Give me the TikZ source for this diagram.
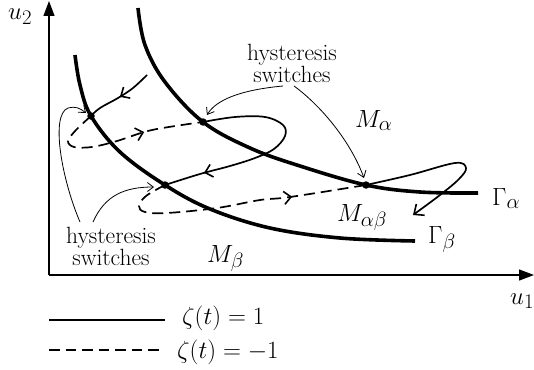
\documentclass[tikz,border=0pt]{standalone}
\usetikzlibrary{arrows.meta,decorations.markings}
\begin{document}
\begin{tikzpicture}[x=1pt,y=-1pt,
  axis/.style={line width=1.2pt,-{Triangle[length=15pt,width=11pt]}},
  manifold/.style={line width=3.6pt},
  traj/.style={line width=1.7pt},
  trajdash/.style={line width=1.7pt,dash pattern=on 11pt off 6pt},
  thin/.style={line width=0.8pt,-{Straight Barb[length=6pt,width=9pt]}},
  midarrow/.style={postaction={decorate},decoration={markings,mark=at position #1 with {\arrow{Straight Barb[length=7pt,width=13pt,line width=1.6pt]}}}},
  mathlbl/.style={inner sep=0pt,font=\fontsize{27.5}{32}\selectfont},
  txtlbl/.style={inner sep=0pt,align=center,font=\fontsize{23.5}{20}\selectfont},
  dot/.style={circle,fill,inner sep=0pt,minimum size=7.5pt}]
\useasboundingbox (0,0) rectangle (534,369);
% axes
\coordinate (O) at (49,275);
\coordinate (Ytop) at (49,1);
\coordinate (Xend) at (534,275);
\draw[axis] (O) -- (Ytop);
\draw[axis] (O) -- (Xend);
\node[mathlbl,anchor=base west] (u2) at (8,20) {$u_2$};
\node[mathlbl,anchor=base west] (u1) at (510,304) {$u_1$};
% manifolds
\draw[manifold] plot[smooth,tension=0.6] coordinates {(138,8) (145,45) (165,82) (203,122) (250,148) (300,166) (366,185) (420,192) (478,193)};
\draw[manifold] plot[smooth,tension=0.6] coordinates {(75,55) (80,85) (91,116) (120,152) (165,185) (210,209) (270,228) (340,238) (415,241)};
\node[mathlbl,anchor=base west] (Ga) at (492,205) {$\Gamma_\alpha$};
\node[mathlbl,anchor=base west] (Gb) at (428,243) {$\Gamma_\beta$};
% switch points
\node[dot] (A) at (91,116) {};
\node[dot] (B) at (203,122) {};
\node[dot] (C) at (165,185) {};
\node[dot] (D) at (366,185) {};
% trajectory
\draw[traj,midarrow=0.5] plot[smooth,tension=0.6] coordinates {(147,75) (133,88) (118,98) (100,108) (91,116)};
\draw[trajdash,midarrow=0.66] plot[smooth,tension=0.55] coordinates {(91,116) (76,130) (68,141) (74,147) (92,147) (117,141) (152,130) (203,122)};
\draw[traj,midarrow=0.82] plot[smooth,tension=0.6] coordinates {(203,122) (235,117) (265,117) (283,125) (285,136) (274,149) (255,158) (230,166) (200,174) (165,185)};
\draw[trajdash,midarrow=0.72] plot[smooth,tension=0.6] coordinates {(165,185) (146,196) (139,206) (145,212) (167,213) (217,208) (260,200) (290,197) (366,185)};
\draw[traj,-{Straight Barb[length=8pt,width=14pt,line width=1.6pt]}] plot[smooth,tension=0.6] coordinates {(366,185) (410,175) (455,163) (466,168) (459,179) (440,195) (413,215)};
% region labels
\node[mathlbl,anchor=base west] (Ma) at (355,127) {$M_\alpha$};
\node[mathlbl,anchor=base west] (Mab) at (337,221) {$M_{\alpha\beta}$};
\node[mathlbl,anchor=base west] (Mb) at (207,262) {$M_\beta$};
% hysteresis labels
\node[txtlbl] (H1) at (292,63) {hysteresis\\switches};
\node[txtlbl] (H2) at (111,246) {hysteresis\\switches};
\coordinate (h1a) at (283,86);
\coordinate (h1b) at (294,86);
\coordinate (h2a) at (80,222);
\coordinate (h2b) at (93,222);
\coordinate (tA) at (86,113);
\coordinate (tB) at (207,115);
\coordinate (tC) at (154,187);
\coordinate (tD) at (364,178);
\draw[thin] (h1a) .. controls (240,90) and (216,100) .. (tB);
\draw[thin] (h1b) .. controls (320,105) and (350,140) .. (tD);
\draw[thin] (h2b) .. controls (105,195) and (125,187) .. (tC);
\draw[thin] (h2a) .. controls (62,180) and (50,115) .. (68,108) .. controls (75,106) and (80,108) .. (tA);
% legend
\coordinate (L1a) at (49,320);
\coordinate (L1b) at (165,320);
\coordinate (L2a) at (49,350);
\coordinate (L2b) at (163,350);
\draw[line width=1.5pt] (L1a) -- (L1b);
\draw[line width=1.5pt,dash pattern=on 10.5pt off 6pt] (L2a) -- (L2b);
\node[mathlbl,anchor=base west] (z1) at (182,324) {$\zeta(t)=1$};
\node[mathlbl,anchor=base west] (z2) at (177,358) {$\zeta(t)=-1$};
\end{tikzpicture}
\end{document}
